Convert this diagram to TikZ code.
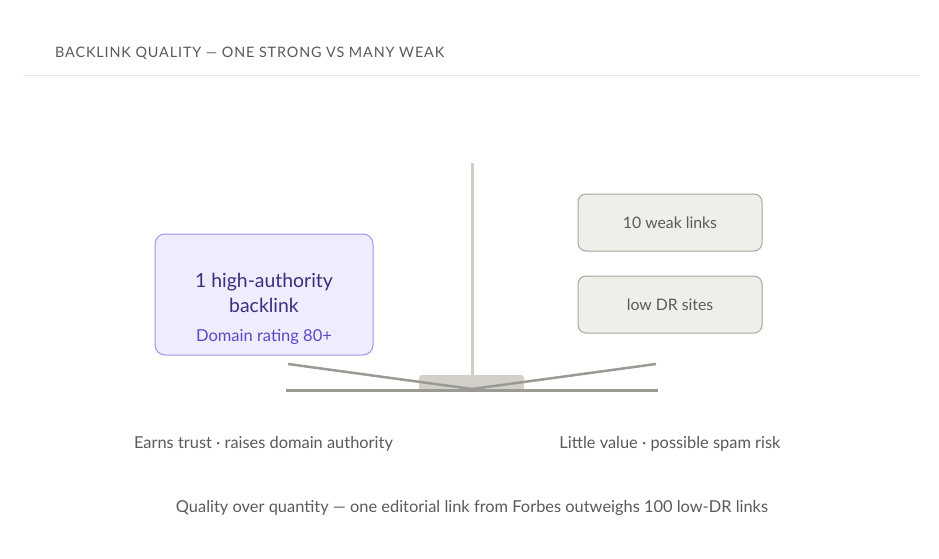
\documentclass[tikz,border=0pt]{standalone}
\usepackage{fontspec}
\setmainfont{Lato}
\definecolor{txtgray}{HTML}{5A5A5A}
\definecolor{rulegray}{HTML}{E6E6E6}
\definecolor{polegray}{HTML}{CFCDC6}
\definecolor{basefill}{HTML}{D2D0C8}
\definecolor{beamgray}{HTML}{9B9994}
\definecolor{strongfill}{HTML}{EEECFD}
\definecolor{strongdraw}{HTML}{A493E8}
\definecolor{strongtxt}{HTML}{3A2E7E}
\definecolor{strongsub}{HTML}{5B48C6}
\definecolor{weakfill}{HTML}{F0EEE8}
\definecolor{weakdraw}{HTML}{A8A59F}
\begin{document}
\begin{tikzpicture}[x=1pt,y=-1pt,
  lbl/.style={font=\fontsize{16.4}{19}\selectfont, text=txtgray, inner sep=0pt},
  weakbox/.style={draw=weakdraw, fill=weakfill, rounded corners=8pt, line width=1pt, minimum width=184pt, minimum height=57pt, font=\fontsize{15.8}{18}\selectfont, text=txtgray},
  strongbox/.style={draw=strongdraw, fill=strongfill, rounded corners=10pt, line width=1pt, minimum width=218pt, minimum height=121pt}
]
\useasboundingbox (0,0) rectangle (939,558);
\fill[white] (0,0) rectangle (939,558);
% title
\node[anchor=west, inner sep=0pt, text=txtgray, font=\fontsize{14.4}{17}\selectfont\addfontfeatures{LetterSpace=6}] (title) at (55,53) {BACKLINK QUALITY — ONE STRONG VS MANY WEAK};
\draw[rulegray, line width=1pt] (23,75) coordinate (r1) -- (920,75) coordinate (r2);
% pole
\coordinate (poletop) at (472,163);
\coordinate (polebot) at (472,378);
\draw[polegray, line width=3pt] (poletop) -- (polebot);
% base
\node[fill=basefill, rounded corners=3pt, minimum width=105pt, minimum height=16pt, inner sep=0pt] (base) at (471.5,383) {};
% ground
\coordinate (gl) at (286,390);
\coordinate (gr) at (658,390);
\draw[beamgray, line width=3pt] (gl) -- (gr);
% beams
\coordinate (bl) at (288,364);
\coordinate (bv) at (472,389);
\coordinate (br) at (656,364);
\draw[beamgray, line width=2.5pt, line join=round] (bl) -- (bv) -- (br);
% boxes
\node[strongbox] (strong) at (264,294.5) {};
\node[text=strongtxt, font=\fontsize{19.4}{25}\selectfont, align=center, inner sep=0pt] (strongt) at (264,293) {1 high-authority\\backlink};
\node[text=strongsub, font=\fontsize{16.5}{19}\selectfont, inner sep=0pt] (strongs) at (264,337) {Domain rating 80+};
\node[weakbox] (weak1) at (670,222.5) {\raisebox{-1.5pt}{10 weak links}};
\node[weakbox] (weak2) at (670,304.5) {\raisebox{-1.5pt}{low DR sites}};
% labels
\node[lbl] (ll) at (263.5,444) {Earns trust · raises domain authority};
\node[lbl] (rl) at (670,444) {Little value · possible spam risk};
\node[lbl] (foot) at (472,508) {Quality over quantity — one editorial link from Forbes outweighs 100 low-DR links};
\end{tikzpicture}
\end{document}
